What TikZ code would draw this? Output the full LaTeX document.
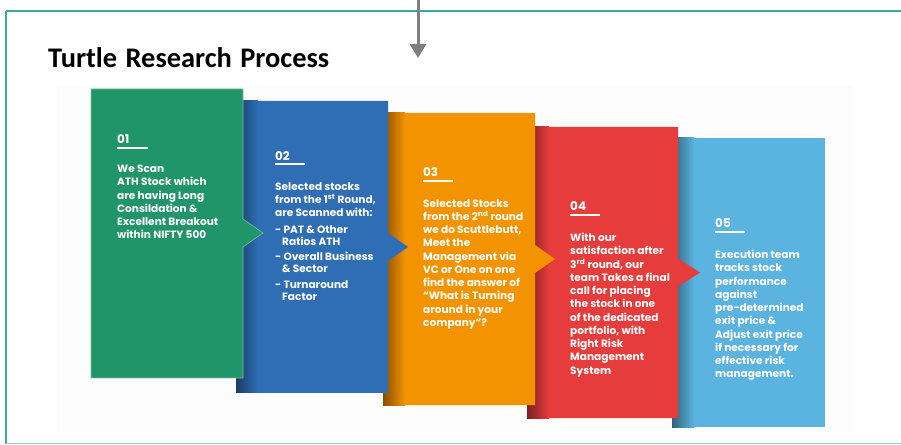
\documentclass[tikz,border=0pt]{standalone}
\usepackage{fontspec}
\newfontfamily\popf{Poppins}
\newfontfamily\carlf{Carlito}
\usetikzlibrary{arrows.meta}
\definecolor{cgreen}{HTML}{21956A}
\definecolor{cblue}{HTML}{2F6EB5}
\definecolor{corange}{HTML}{F49300}
\definecolor{cred}{HTML}{E63C3C}
\definecolor{clblue}{HTML}{5BB3E0}
\definecolor{cteal}{HTML}{3AA7A0}
\definecolor{cgrayarrow}{HTML}{7F7F7F}
\tikzset{
  cardtext/.style={anchor=north west, inner sep=0pt, align=left, text=white,
    font=\popf\bfseries\fontsize{10.6}{13.3}\selectfont},
  cardnum/.style={anchor=west, inner sep=0pt, text=white,
    font=\popf\bfseries\fontsize{12}{13}\selectfont},
  numline/.style={white, line width=1.6bp},
  titletext/.style={anchor=base west, inner sep=0pt, text=black,
    font=\carlf\bfseries\fontsize{28.5}{30}\selectfont},
  frameline/.style={cteal, line width=2bp},
  downarrow/.style={cgrayarrow, line width=3bp, -{Triangle[width=16bp,length=14bp]}},
}
\begin{document}
\begin{tikzpicture}[x=1bp,y=-1bp]
\useasboundingbox (0,0) rectangle (901,445);
\fill[white] (0,0) rectangle (901,445);
% frame
\draw[frameline] (6,11) -- (910,11);
\draw[frameline] (6,11) -- (6,443.5);
\draw[cteal!55, line width=1.5bp] (6,443.5) -- (910,443.5);
% faint picture background
\fill[black!1] (57,86) rectangle (853,432);
% title
\node[titletext] (title) at (48,68) {Turtle\hspace{2bp} Research\hspace{2bp} Process};
% arrow
\coordinate (arrtop) at (418,-2);
\coordinate (arrtip) at (418,58);
\draw[downarrow] (arrtop) -- (arrtip);

% box 5 light blue
\fill[clblue] (672,138) rectangle (825,427);
\shade[left color=clblue!55!black, right color=clblue] (672,138) rectangle (694,427);
% box 4 red
\fill[cred] (527,127) -- (678,127) -- (678,258.5) -- (700,272.5) -- (678,286.5) -- (678,418) -- (527,418) -- cycle;
\shade[left color=cred!55!black, right color=cred] (527,127) rectangle (549,418);
% box 3 orange
\fill[corange] (383,113) -- (535,113) -- (535,245) -- (555,259) -- (535,273) -- (535,405) -- (383,405) -- cycle;
\shade[left color=corange!55!black, right color=corange] (383,113) rectangle (405,405);
% box 2 blue
\fill[cblue] (236,101) -- (388,101) -- (388,233) -- (408,247) -- (388,261) -- (388,393) -- (236,393) -- cycle;
\shade[left color=cblue!55!black, right color=cblue] (236,101) rectangle (258,393);
% box 1 green
\fill[cgreen, draw=cgreen!60!white, line width=0.6bp] (91,89) -- (243,89) -- (243,219) -- (263,233) -- (243,247) -- (243,378) -- (91,378) -- cycle;

% card 1
\node[cardnum] (n1) at (117,139) {01};
\draw[numline] (117,148) -- (148,148);
\node[cardtext] (t1) at (117,165) {We Scan\\ATH Stock which\\are having Long\\Consildation \&\\Excellent Breakout\\within NIFTY 500};
% card 2
\node[cardnum] (n2) at (275,156) {02};
\draw[numline] (275,164) -- (305,164);
\node[cardtext] (t2) at (275,182) {Selected stocks\\from the 1\textsuperscript{st} Round,\\are Scanned with:\\[3.5bp]- PAT \& Other\\[-1.3bp]\hspace*{7bp}Ratios ATH\\[2.5bp]- Overall Business\\[-1.3bp]\hspace*{7bp}\& Sector\\[2bp]- Turnaround\\[-1.3bp]\hspace*{7bp}Factor};
% card 3
\node[cardnum] (n3) at (423,172) {03};
\draw[numline] (423,181) -- (453,181);
\node[cardtext] (t3) at (423,199) {Selected Stocks\\from the 2\textsuperscript{nd} round\\we do Scuttlebutt,\\Meet the\\Management via\\VC or One on one\\find the answer of\\“What is Turning\\around in your\\company”?};
% card 4
\node[cardnum] (n4) at (570,206) {04};
\draw[numline] (570,215) -- (600,215);
\node[cardtext] (t4) at (570,233) {With our\\satisfaction after\\3\textsuperscript{rd} round, our\\team Takes a final\\call for placing\\the stock in one\\of the dedicated\\portfolio, with\\Right Risk\\Management\\System};
% card 5
\node[cardnum] (n5) at (715,223) {05};
\draw[numline] (715,232) -- (745,232);
\node[cardtext] (t5) at (715,250) {Execution team\\tracks stock\\performance\\against\\pre-determined\\exit price \&\\Adjust exit price\\if necessary for\\effective risk\\management.};
\end{tikzpicture}
\end{document}
